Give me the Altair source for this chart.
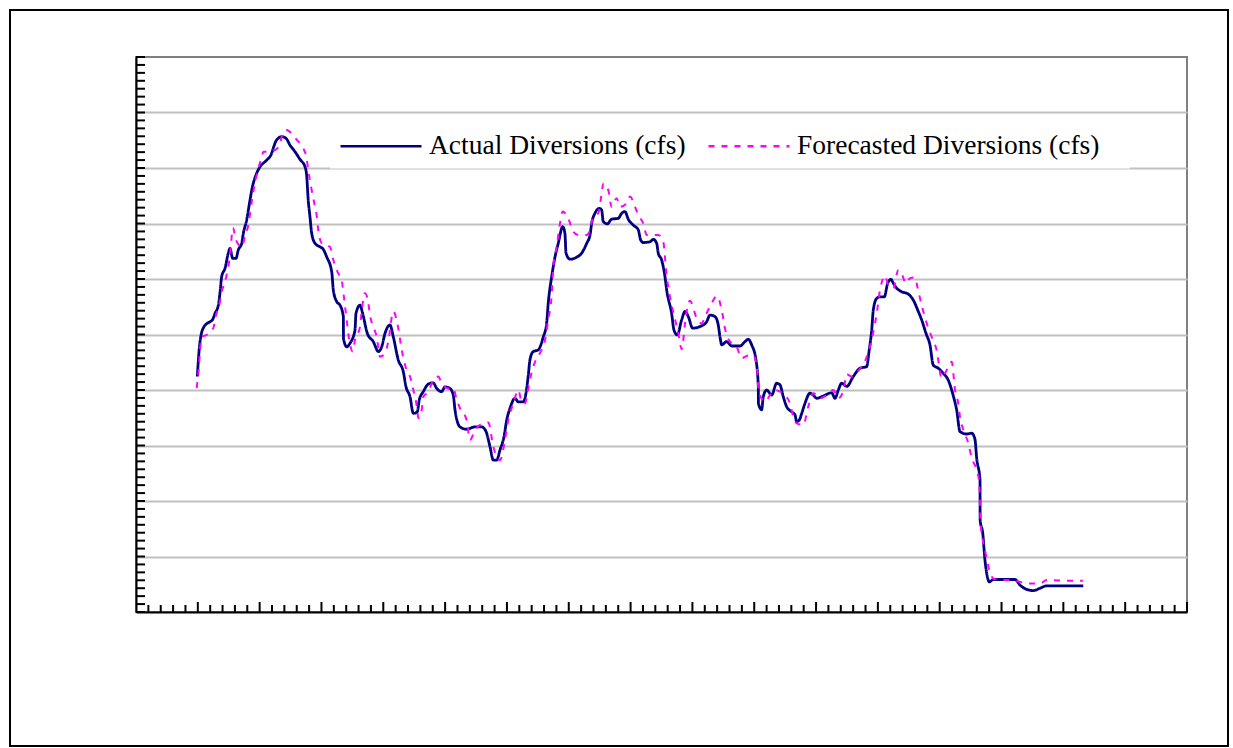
import altair as alt
import pandas as pd

# Daily diversions, x in days from the start of the axis, y in cfs
actual_day = [4.96, 5.12, 5.30, 5.44, 5.66, 5.98, 6.20, 6.39, 6.66, 6.79,
              6.93, 7.20, 7.46, 7.60, 7.82, 8.09, 8.27, 8.55, 8.68, 8.95,
              9.22, 9.36, 9.76, 10.03, 10.57, 10.97, 11.10, 11.38, 11.78, 12.13,
              12.45, 12.86, 13.26, 13.67, 13.80, 13.93, 14.07, 14.21, 14.48, 14.88,
              15.12, 15.42, 15.83, 15.96, 16.23, 16.50, 16.77, 16.78, 17.04, 17.31,
              17.71, 17.79, 18.12, 18.33, 18.71, 19.19, 19.60, 19.87, 20.14, 20.54,
              20.81, 21.21, 21.62, 21.84, 22.16, 22.43, 22.75, 22.91, 23.24, 23.64,
              24.04, 24.32, 24.72, 24.99, 25.39, 25.66, 25.80, 26.20, 26.74, 27.42,
              27.96, 28.31, 28.63, 28.90, 29.17, 29.44, 29.76, 29.98, 30.25, 30.65,
              30.92, 31.32, 31.54, 31.73, 31.86, 32.13, 32.53, 32.94, 33.21, 33.34,
              33.62, 33.89, 34.15, 34.51, 34.69, 34.78, 35.10, 35.64, 36.04, 36.45,
              36.72, 36.85, 37.12, 37.47, 37.66, 37.79, 38.12, 38.47, 39.01, 39.28,
              39.55, 39.81, 40.22, 40.62, 40.82, 41.03, 41.57, 41.84, 42.11, 42.24,
              42.51, 42.78, 42.92, 43.32, 43.51, 43.78, 44.13, 44.40, 44.67, 45.02,
              45.61, 46.15, 46.42, 46.83, 47.09, 47.23, 47.37, 47.77, 48.18, 48.85,
              49.25, 49.52, 49.79, 50.14, 50.33, 50.34, 50.60, 50.73, 51.01, 51.41,
              51.81, 52.08, 52.35, 52.62, 53.03, 53.30, 53.43, 53.64, 53.84, 54.10,
              54.51, 54.78, 55.05, 55.58, 56.26, 56.53, 56.80, 57.07, 57.48, 58.01,
              58.55, 59.09, 59.30, 59.50, 59.63, 59.90, 60.17, 60.52, 60.79, 61.06,
              61.25, 61.52, 61.92, 62.46, 62.86, 63.27, 63.54, 63.89, 64.21, 64.48,
              64.88, 65.29, 65.69, 66.10, 66.37, 66.64, 67.18, 67.59, 67.85, 67.99,
              68.26, 68.27, 68.48, 68.66, 68.80, 69.01, 69.33, 70.14, 71.09, 71.49,
              72.03, 72.57, 73.11, 73.65, 74.99, 76.61]
actual_cfs = [594, 665, 704, 716, 726, 732, 738, 753, 774, 804,
              846, 867, 905, 917, 892, 892, 913, 930, 955, 989,
              1039, 1064, 1107, 1123, 1140, 1157, 1170, 1191, 1199, 1195,
              1178, 1161, 1142, 1123, 1102, 1039, 997, 955, 930, 921,
              916, 896, 858, 812, 783, 774, 745, 690, 669, 678,
              711, 753, 774, 753, 703, 682, 657, 669, 703, 724,
              694, 636, 606, 568, 543, 501, 505, 535, 556, 575,
              578, 564, 556, 568, 564, 547, 510, 467, 461, 467,
              467, 455, 417, 383, 383, 409, 442, 484, 514, 539,
              530, 530, 552, 598, 636, 657, 661, 694, 728, 779,
              846, 896, 930, 972, 955, 905, 890, 895, 905, 930,
              951, 980, 1006, 1018, 1014, 985, 979, 991, 993, 1006,
              1010, 991, 976, 964, 938, 932, 934, 940, 930, 905,
              888, 846, 812, 753, 711, 699, 737, 758, 745, 716,
              720, 732, 749, 745, 724, 694, 674, 682, 671, 671,
              682, 688, 674, 636, 568, 526, 510, 543, 560, 547,
              577, 573, 543, 518, 505, 497, 480, 484, 501, 526,
              552, 547, 539, 545, 553, 539, 560, 577, 569, 594,
              615, 619, 661, 711, 762, 791, 795, 795, 829, 839,
              829, 817, 808, 802, 787, 758, 737, 703, 674, 623,
              615, 602, 585, 545, 510, 455, 449, 451, 436, 388,
              333, 232, 199, 131, 98, 76, 82, 82, 82, 68,
              57, 54, 60, 66, 66, 66]

forecast_day = [4.91, 5.05, 5.31, 5.72, 6.25, 6.47, 6.74, 6.93, 7.20, 7.38,
                7.60, 7.84, 8.09, 8.55, 8.82, 9.08, 9.36, 9.54, 9.76, 10.17,
                10.30, 10.70, 11.24, 11.65, 11.91, 12.19, 12.59, 13.00, 13.53, 13.80,
                13.93, 14.21, 14.48, 14.61, 14.74, 15.02, 15.69, 15.96, 16.36, 16.64,
                16.76, 17.04, 17.17, 17.53, 17.71, 18.12, 18.25, 18.52, 18.79, 18.92,
                19.19, 19.47, 19.73, 20.14, 20.40, 20.81, 21.21, 21.49, 21.89, 22.16,
                22.43, 22.75, 22.83, 23.11, 23.24, 23.64, 24.04, 24.45, 24.72, 25.26,
                25.66, 25.94, 26.20, 26.74, 27.01, 27.42, 27.82, 28.49, 28.90, 29.17,
                29.44, 29.84, 30.11, 30.51, 30.92, 31.19, 31.46, 31.73, 32.00, 32.27,
                32.67, 33.08, 33.34, 33.62, 33.75, 34.02, 34.29, 34.51, 34.96, 35.37,
                35.77, 36.45, 36.72, 36.98, 37.39, 37.66, 37.79, 38.20, 38.47, 38.87,
                39.14, 39.68, 39.95, 40.36, 40.62, 41.03, 41.30, 41.71, 42.24, 42.64,
                42.92, 43.19, 43.45, 43.86, 44.13, 44.26, 44.40, 44.80, 45.34, 45.75,
                46.02, 46.56, 46.96, 47.37, 47.63, 48.04, 48.58, 48.98, 49.39, 49.92,
                50.20, 50.33, 50.52, 50.87, 51.27, 51.68, 52.08, 52.49, 52.89, 53.16,
                53.43, 53.97, 54.37, 54.78, 55.32, 55.86, 56.39, 56.80, 57.20, 57.48,
                57.88, 58.41, 58.96, 59.36, 59.63, 59.90, 60.17, 60.44, 60.57, 60.84,
                61.25, 61.65, 61.92, 62.27, 62.60, 63.00, 63.19, 63.54, 63.95, 64.35,
                64.75, 65.16, 65.56, 65.97, 66.24, 66.50, 66.64, 66.91, 67.31, 67.59,
                67.99, 68.20, 68.26, 68.31, 68.48, 68.74, 69.01, 69.33, 69.87, 70.68,
                71.49, 72.30, 73.11, 73.65, 74.99, 76.58]
forecast_cfs = [565, 605, 694, 699, 716, 749, 774, 808, 833, 858,
                898, 969, 938, 921, 948, 976, 1035, 1070, 1102, 1148,
                1161, 1161, 1165, 1182, 1212, 1216, 1207, 1191, 1170, 1144,
                1115, 1064, 1022, 1001, 964, 930, 921, 888, 854, 837,
                808, 737, 703, 657, 686, 720, 758, 804, 779, 749,
                720, 694, 644, 653, 682, 758, 716, 661, 610, 594,
                560, 510, 489, 510, 543, 556, 585, 594, 577, 564,
                564, 535, 514, 484, 434, 459, 472, 478, 417, 392,
                383, 434, 484, 526, 560, 530, 526, 564, 605, 631,
                653, 686, 737, 800, 871, 921, 980, 1010, 993, 959,
                951, 951, 964, 997, 1006, 1056, 1081, 1064, 1022, 1044,
                1022, 1031, 1048, 1022, 1001, 980, 951, 951, 951, 934,
                846, 795, 757, 703, 663, 686, 728, 785, 742, 728,
                745, 779, 797, 762, 716, 682, 669, 640, 646, 648,
                619, 568, 543, 530, 547, 560, 556, 547, 526, 493,
                476, 472, 518, 552, 539, 547, 560, 539, 557, 600,
                594, 608, 633, 669, 706, 752, 812, 843, 848, 825,
                817, 863, 854, 829, 842, 844, 821, 774, 728, 694,
                661, 590, 610, 631, 560, 526, 493, 459, 426, 388,
                358, 325, 266, 224, 182, 144, 106, 85, 81, 81,
                76, 72, 72, 81, 79, 79]

series_names = ["Actual Diversions (cfs)", "Forecasted Diversions (cfs)"]

# Axis ticks: one minor tick per day, a longer one every 5 days; y every 20 cfs
x_minor_ticks = [d for d in range(1, 85) if d % 5 != 0]
x_major_ticks = list(range(5, 86, 5))
y_ticks = list(range(0, 1401, 20))
y_grid = list(range(140, 1400, 140))

rows = []
for name, days, vals in [(series_names[0], actual_day, actual_cfs),
                         (series_names[1], forecast_day, forecast_cfs)]:
    for i, (d, v) in enumerate(zip(days, vals)):
        rows.append({"series": name, "day": d, "cfs": v, "seq": i})
df = pd.DataFrame(rows)

W, H = 1051, 555
x_scale = alt.Scale(domain=[0, 85], nice=False, zero=False)
y_scale = alt.Scale(domain=[0, 1400], nice=False, zero=False)

x_axis = alt.Axis(values=x_major_ticks, grid=False, labels=False, ticks=False,
                  domainColor="black", domainWidth=2, title=None)
y_axis = alt.Axis(values=y_grid, grid=True, gridColor="#c0c0c0", gridWidth=2,
                  labels=False, ticks=False, domainColor="black", domainWidth=2,
                  title=None)

legend = alt.Legend(
    title=None, orient="none", legendX=203, legendY=76, direction="horizontal",
    symbolType="stroke", symbolSize=6561, symbolStrokeWidth=2.5,
    labelFont="Liberation Serif", labelFontSize=27.5, labelColor="black",
    labelOffset=6, columnPadding=21, padding=0, clipHeight=26, labelLimit=600,
)

one = pd.DataFrame({"k": [0]})

# white panel behind the legend
legend_panel = alt.Chart(one).mark_rect(color="white").encode(
    x=alt.value(194), x2=alt.value(994), y=alt.value(64), y2=alt.value(111.5)
)

lines = alt.Chart(df).mark_line(strokeJoin="round", interpolate="monotone").encode(
    x=alt.X("day:Q", scale=x_scale, axis=x_axis),
    y=alt.Y("cfs:Q", scale=y_scale, axis=y_axis),
    color=alt.Color("series:N", sort=series_names,
                    scale=alt.Scale(domain=series_names, range=["#000080", "#ff00ff"]),
                    legend=legend),
    strokeDash=alt.StrokeDash("series:N", sort=series_names,
                              scale=alt.Scale(domain=series_names, range=[[1, 0], [6, 7]]),
                              legend=legend),
    strokeWidth=alt.condition(alt.datum.series == series_names[0],
                              alt.value(2.8), alt.value(2)),
    order=alt.Order("seq:Q"),
)

y_tick_marks = alt.Chart(pd.DataFrame({"v": y_ticks})).mark_rule(
    color="black", strokeWidth=2).encode(
    y=alt.Y("v:Q", scale=y_scale, axis=y_axis),
    x=alt.value(0), x2=alt.value(9),
)
x_minor_marks = alt.Chart(pd.DataFrame({"d": x_minor_ticks})).mark_rule(
    color="black", strokeWidth=2).encode(
    x=alt.X("d:Q", scale=x_scale, axis=x_axis),
    y=alt.value(H), y2=alt.value(H - 7),
)
x_major_marks = alt.Chart(pd.DataFrame({"d": x_major_ticks})).mark_rule(
    color="black", strokeWidth=2).encode(
    x=alt.X("d:Q", scale=x_scale, axis=x_axis),
    y=alt.value(H), y2=alt.value(H - 10),
)

# frame around the whole chart
frame = alt.Chart(one).mark_rect(fillOpacity=0, stroke="black", strokeWidth=2).encode(
    x=alt.value(-126), x2=alt.value(1092), y=alt.value(-47), y2=alt.value(689)
)

chart = alt.layer(
    legend_panel, lines, y_tick_marks, x_minor_marks, x_major_marks, frame
).properties(
    width=W, height=H,
    padding={"left": 136, "top": 57, "right": 46, "bottom": 136},
    autosize=alt.AutoSizeParams(type="none"),
    background="white",
).configure_view(
    stroke="#808080", strokeWidth=2
)

chart.save("out.html", embed_options={"renderer": "svg", "actions": False})
